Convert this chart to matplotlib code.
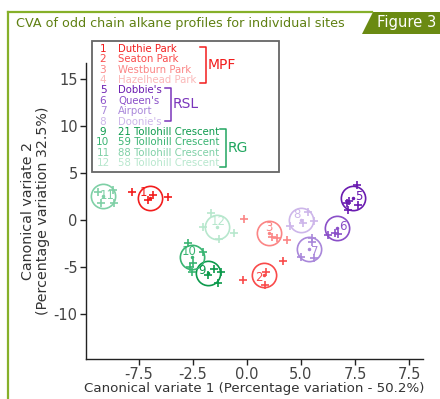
import matplotlib
matplotlib.use("Agg")
import matplotlib.pyplot as plt
from matplotlib.patches import Polygon, Rectangle
from matplotlib.lines import Line2D

# ---------------- data ----------------
site_ids = ["1", "2", "3", "4", "5", "6", "7", "8", "9", "10", "11", "12"]
site_names = ["Duthie Park", "Seaton Park", "Westburn Park", "Hazelhead Park",
              "Dobbie's", "Queen's", "Airport", "Doonie's",
              "21 Tollohill Crescent", "59 Tollohill Crescent",
              "88 Tollohill Crescent", "58 Tollohill Crescent"]
site_colors = ["#f21d1d", "#f94a4a", "#fb8585", "#fbb8b8",
               "#6a1bb0", "#8a4fc8", "#a987da", "#cdb6ea",
               "#0c9a4c", "#39b472", "#7fd0a6", "#b7e7cd"]
group_names = ["MPF", "RSL", "RG"]
group_colors = ["#f21d1d", "#7a35bb", "#22a660"]

centre_x = [-6.99, -1.71, -1.48, -1.62, 2.41, 1.67, 0.37, 0.00, -4.31, -5.05, -9.17, -3.89]
centre_y = [2.34, -5.85, -1.38, 15.32, 2.34, -0.85, -3.09, 0.00, -5.64, -3.94, 2.55, -0.74]

obs_x = [
    [-7.82, -6.85, -7.08, -6.16],
    [-1.62, -1.67, -2.68, -0.83],
    [-1.34, -1.11, -0.65, -2.64],
    [-1.94, -1.30, -1.48, -1.67],
    [2.59, 2.22, 2.13, 2.64, 2.18],
    [1.25, 1.57, 1.71],
    [0.51, 0.51, 0.00, 0.60],
    [0.32, 0.60, 0.09, -0.51],
    [-4.31, -4.03, -3.70, -3.84],
    [-5.23, -4.54, -5.00, -5.14, -5.05],
    [-9.40, -8.70, -9.26, -8.66],
    [-4.17, -4.54, -3.80, -3.10],
]
obs_y = [
    [2.98, 2.66, 2.13, 2.45],
    [-5.53, -6.92, -6.38, -4.36],
    [-1.81, -1.92, -2.13, 0.11],
    [15.75, 16.28, 14.90, 14.04],
    [3.72, 2.02, 1.81, 1.60, 1.06],
    [-1.60, -1.38, -1.49],
    [-1.92, -2.34, -3.94, -4.04],
    [0.85, -0.11, -0.32, -0.64],
    [-5.85, -5.21, -5.53, -6.70],
    [-2.45, -3.40, -4.58, -5.00, -5.53],
    [2.98, 3.19, 1.81, 1.81],
    [0.74, -0.74, -2.02, -1.38],
]

x_ticks = [-7.5, -5.0, -2.5, 0.0, 2.5, 5.0]
x_tick_labels = ["-7.5", "-2.5", "0.0", "5.0", "7.5", "7.5"]
y_ticks = [-10, -5, 0, 5, 10, 15]
y_tick_labels = ["-10", "-5", "0", "5", "10", "15"]

title = "CVA of odd chain alkane profiles for individual sites"
fig_label = "Figure 3"
x_label = "Canonical variate 1 (Percentage variation - 50.2%)"
y_label = "Canonical variate 2\n(Percentage variation 32.5%)"

# label offsets (points) for the numbers next to each circle
label_dx = [-5, -4, 0, -5, 4, 4, 4, -3, -4, -2, 3, 1]
label_dy = [4, -2, 4, -2, 1, 1, -2, 4, 2, 4, 0, 4]

# ---------------- figure ----------------
W, H = 440, 399
fig = plt.figure(figsize=(W / 100, H / 100), dpi=100)
plt.rcParams['font.family'] = ['DejaVu Sans']


def fx(px):
    return px / W


def fy(py):
    return 1 - py / H


olive = "#6a8a12"
# frame
fig.add_artist(Line2D([fx(8), fx(8)], [fy(12), fy(399)], color="#86b02a", lw=1.6))
fig.add_artist(Line2D([fx(8), fx(372)], [fy(12), fy(12)], color="#86b02a", lw=1.6))
fig.add_artist(Polygon([[fx(362), fy(34)], [fx(373), fy(12)], [fx(440), fy(12)], [fx(440), fy(34)]],
                       closed=True, facecolor=olive, edgecolor="none", transform=fig.transFigure))
fig.text(fx(16), fy(23), title, color="#5f8012", fontsize=9.2, va="center", ha="left")
fig.text(fx(377), fy(23), fig_label, color="white", fontsize=10.6, va="center", ha="left")

ax = fig.add_axes([fx(86), fy(359), fx(423) - fx(86), fy(63) - fy(359)])
ax.set_xlim(-9.95, 5.65)
ax.set_ylim(-14.8, 16.7)
for s in ["top", "right"]:
    ax.spines[s].set_visible(False)
for s in ["left", "bottom"]:
    ax.spines[s].set_color("#222222")
    ax.spines[s].set_linewidth(1.0)
ax.set_xticks(x_ticks)
ax.set_xticklabels(x_tick_labels)
ax.set_yticks(y_ticks)
ax.set_yticklabels(y_tick_labels)
ax.tick_params(direction="out", length=4, width=1, color="#222222",
               labelcolor="#444444", labelsize=10.5, pad=2)
ax.set_xlabel(x_label, fontsize=9.6, color="#333333", labelpad=0)
ax.set_ylabel(y_label, fontsize=10.3, color="#333333", labelpad=3, linespacing=1.05)

for i in range(len(site_ids)):
    c = site_colors[i]
    ax.plot(obs_x[i], obs_y[i], linestyle="none", marker="+", markersize=6,
            markeredgewidth=1.2, color=c, zorder=3)
    ax.plot([centre_x[i]], [centre_y[i]], linestyle="none", marker="o", markersize=17.5,
            markerfacecolor="none", markeredgewidth=1.2, markeredgecolor=c, zorder=2)
    ax.plot([centre_x[i]], [centre_y[i]], linestyle="none", marker="o", markersize=1.5,
            color=c, zorder=2)
    ax.annotate(site_ids[i], (centre_x[i], centre_y[i]), xytext=(label_dx[i], label_dy[i]),
                textcoords="offset points", ha="center", va="center", fontsize=8.5, color=c)

# legend box
fig.add_artist(Rectangle((fx(92), fy(172)), fx(279) - fx(92), fy(41) - fy(172),
                         transform=fig.transFigure, facecolor="white", edgecolor="#666666",
                         lw=1.3, zorder=5))
row0, dy = 49, 10.36
for i in range(len(site_ids)):
    y = fy(row0 + i * dy)
    fig.text(fx(103), y, site_ids[i], color=site_colors[i], fontsize=7.6, ha="center",
             va="center", zorder=6)
    fig.text(fx(118), y, site_names[i], color=site_colors[i], fontsize=7.3, ha="left",
             va="center", zorder=6)

bracket_x = [206, 171, 226]
bracket_top = [47, 88, 129]
bracket_bot = [83, 121, 167]
for g in range(3):
    bx, bt, bb = bracket_x[g], bracket_top[g], bracket_bot[g]
    col = group_colors[g]
    fig.add_artist(Line2D([fx(bx - 6), fx(bx), fx(bx), fx(bx - 6)],
                          [fy(bt), fy(bt), fy(bb), fy(bb)], color=col, lw=1.1, zorder=6))
    fig.text(fx(bx + 2), fy((bt + bb) / 2), group_names[g], color=col, fontsize=10,
             ha="left", va="center", zorder=6)

fig.savefig("out.png", dpi=100)
